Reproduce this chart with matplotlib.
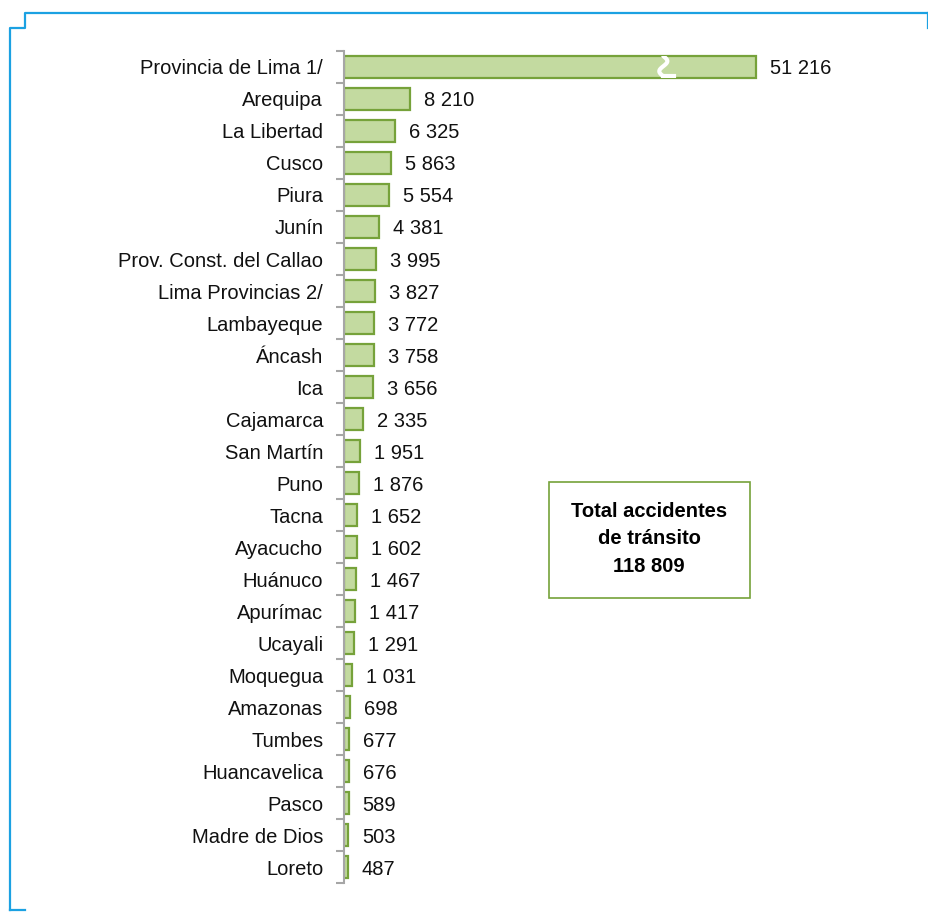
import numpy as np
import matplotlib
matplotlib.use("Agg")
import matplotlib.pyplot as plt
from matplotlib.lines import Line2D
from matplotlib.patches import Rectangle

# ======================================================
# Data: accidentes de tránsito por departamento
# ======================================================
regions = ["Provincia de Lima 1/", "Arequipa", "La Libertad", "Cusco", "Piura",
           "Junín", "Prov. Const. del Callao", "Lima Provincias 2/", "Lambayeque",
           "Áncash", "Ica", "Cajamarca", "San Martín", "Puno", "Tacna", "Ayacucho",
           "Huánuco", "Apurímac", "Ucayali", "Moquegua", "Amazonas", "Tumbes",
           "Huancavelica", "Pasco", "Madre de Dios", "Loreto"]
accidents = [51216, 8210, 6325, 5863, 5554, 4381, 3995, 3827, 3772, 3758, 3656,
             2335, 1951, 1876, 1652, 1602, 1467, 1417, 1291, 1031, 698, 677,
             676, 589, 503, 487]
total_label = ["Total accidentes", "de tránsito", "118 809"]

FONT = ["Liberation Sans", "DejaVu Sans"]
BAR_FACE = "#c3daa0"
BAR_EDGE = "#76a23a"
SPINE = "#a6a6a6"
FRAME = "#1ba1e2"

W, H = 929, 913
fig = plt.figure(figsize=(W / 100, H / 100), dpi=100)
ax = fig.add_axes([344 / W, 1 - 883 / H, (920 - 344) / W, (883 - 51) / H])

y = np.arange(len(regions))
bars = ax.barh(y, accidents, height=0.66, color=BAR_FACE, edgecolor=BAR_EDGE, linewidth=1.6)
ax.set_ylim(len(regions) - 0.5, -0.5)
ax.set_xlim(0, 71600)

# value labels
for yi, v in zip(y, accidents):
    ax.annotate(f"{v:,}".replace(",", " "), (v, yi), xytext=(10, 0),
                textcoords="offset points", va="center_baseline", ha="left",
                fontsize=14.5, family=FONT, color="#111111")

# break mark on the long bar
yy = np.linspace(-0.34, 0.29, 40)
xx = accidents[0] * 0.775 + 500 * np.sin((yy + 0.34) / 0.63 * 2 * np.pi)
mark = ax.plot(xx, yy, color="white", lw=3, solid_capstyle="round")[0]
tail = ax.plot([xx[-1], xx[-1] + 1300], [0.29, 0.29], color="white", lw=3)[0]
mark.set_clip_path(bars[0])
tail.set_clip_path(bars[0])

# axes styling
for s in ["top", "right", "bottom"]:
    ax.spines[s].set_visible(False)
ax.spines["left"].set_color(SPINE)
ax.spines["left"].set_linewidth(1.5)
ax.set_xticks([])
ax.set_yticks(np.arange(len(regions) + 1) - 0.5)
ax.set_yticklabels([])
ax.set_yticks(y, minor=True)
ax.set_yticklabels(regions, minor=True, fontsize=14.5, family=FONT, color="#111111")
ax.tick_params(axis="y", which="major", length=6, width=1.5, color=SPINE)
ax.tick_params(axis="y", which="minor", length=0, pad=15)

# total box
fig.add_artist(Rectangle((549 / W, 1 - 598 / H), 201 / W, 116 / H,
                         transform=fig.transFigure, fc="white", ec=BAR_EDGE, lw=1.2))
fig.text(649 / W, 1 - 539 / H, "\n".join(total_label), ha="center", va="center",
         fontsize=14.5, fontweight="bold", family=FONT, linespacing=1.55)

# blue frame
def px(xs, ys):
    return Line2D([x / W for x in xs], [1 - v / H for v in ys],
                  color=FRAME, lw=1.6, transform=fig.transFigure)

fig.add_artist(px([10, 10, 25, 25, 929], [910, 28, 28, 13, 13]))
fig.add_artist(px([10, 25], [910, 910]))
fig.add_artist(px([928, 928], [13, 28]))

fig.savefig("out.png", dpi=100)
